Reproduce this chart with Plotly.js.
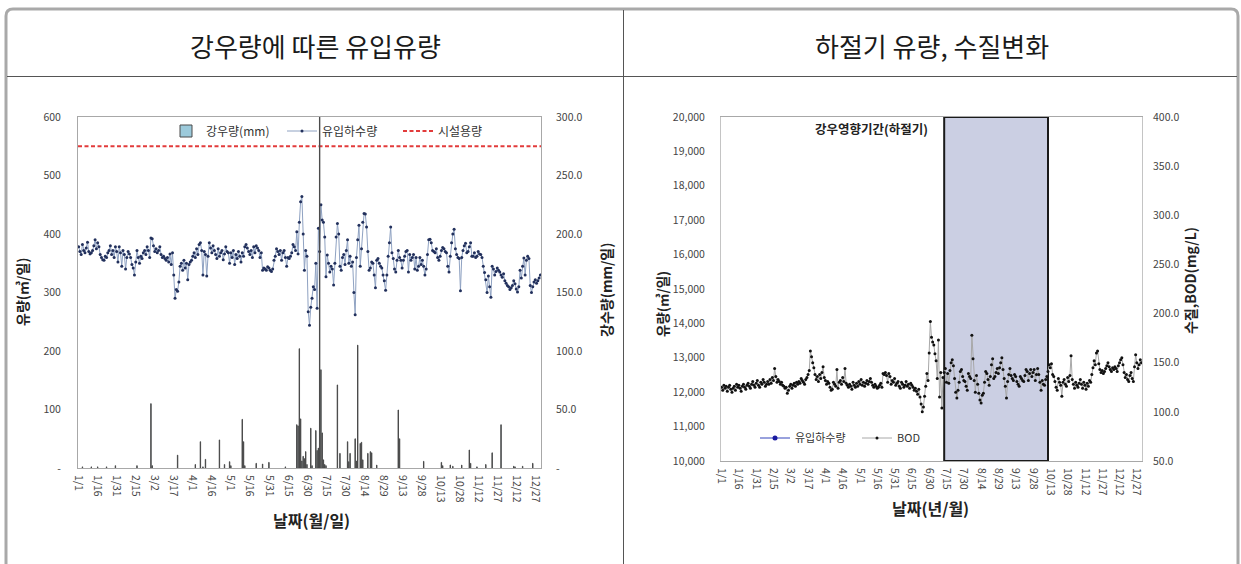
<!DOCTYPE html>
<html><head><meta charset="utf-8">
<script src="https://cdn.plot.ly/plotly-3.0.1.min.js"></script>
<style>html,body{margin:0;padding:0;background:#fff;}#chart{width:1241px;height:564px;}</style>
</head><body><div id="chart"></div>
<script>
// ---------------- DATA ----------------
const yearStart = '2013-01-01';
const nDays = 365;
// 유입하수량 (m3/day), left chart, daily from 1/1
const inflow = [
378,370,365,382,372,368,376,386,370,366,
368,372,380,390,375,385,378,365,360,356,
355,362,360,368,372,380,365,372,360,378,
370,352,378,368,345,372,365,340,360,370,
366,360,348,342,330,352,372,360,350,362,
358,368,372,365,378,372,360,393,392,380,
370,375,368,372,378,365,360,362,358,355,
360,352,366,348,368,330,290,305,302,318,
345,350,338,355,342,350,322,348,352,355,
362,368,360,375,365,382,385,372,330,370,
365,328,362,385,376,368,380,372,365,358,
375,362,368,372,356,366,378,370,368,350,
368,360,372,348,365,358,370,362,352,368,
362,378,382,376,370,365,372,360,378,368,
380,376,372,360,368,338,342,340,338,344,
342,
338,336,340,355,362,375,370,365,372,355,
368,372,360,345,360,358,362,368,382,378,
372,404,366,420,455,464,400,338,372,362,
267,244,275,290,310,305,350,273,410,370,
450,424,420,395,327,364,350,335,345,340,
313,350,395,418,400,345,338,360,365,348,
372,390,350,362,345,352,300,262,360,390,
415,345,375,420,435,434,412,370,338,342,
352,350,330,308,355,358,350,345,342,330,
320,304,330,362,385,412,368,358,340,335,
355,372,360,355,342,355,362,370,372,335,
365,355,360,365,340,360,338,345,360,348,
355,345,330,340,365,390,
391,385,372,370,368,375,360,355,362,372,
377,375,370,368,345,335,362,385,400,408,
375,365,360,358,303,360,372,380,384,368,
370,378,385,362,362,368,360,362,370,366,
365,360,345,334,322,300,328,310,292,345,
340,330,336,342,338,335,330,326,332,320,
316,312,310,305,308,312,320,315,306,301,
310,338,325,345,359,330,355,362,358,312,
300,310,318,322,316,320,325,330
];
// 강우량 (mm/day): day index (0 = 1/1) and amount
const rainDay = [3,10,15,22,29,46,57,58,78,92,96,98,100,111,115,119,120,129,130,131,140,145,150,163,
172,173,174,175,176,177,178,179,180,183,184,187,188,189,190,191,192,193,194,195,
204,206,212,213,214,218,219,220,222,223,224,228,230,231,235,252,253,272,286,287,293,295,302,308,309,314,321,326,333,343,344,350,358];
const rainMm = [1,1,1,1,2,2,55,2,11,3,22.5,1,7.4,24,3,5.4,2,41.6,22.5,2,4,3.4,4.8,1,
37,36,102,42,6,10,8,14,3,34,2,32,15,17,320,84,30,7,3,2,
71,12.5,22.5,5.4,12.5,25,6,105,21,22,7,12.5,14,13,2.5,49.6,25,5.7,4.8,2,2.6,1.5,2.5,15.4,4,1,3,13,37,1.5,1,1.5,4];
const capacity = 550; // 시설용량
// BOD (mg/L), right chart, daily from 1/1
const bod = [
125,122,127,124,126,121,125,127,123,120,
124,126,122,128,125,127,124,121,126,128,
125,123,127,129,126,124,128,131,127,125,
129,132,127,125,130,128,133,130,126,128,
131,128,133,129,135,132,144,136,130,133,
131,128,130,127,126,124,125,119,122,126,
128,124,127,129,126,130,128,131,129,134,
132,130,128,133,135,138,142,162,156,150,
145,138,133,136,131,138,134,140,146,135,
132,128,131,129,125,122,123,130,128,126,
143,124,130,132,128,135,131,144,129,127,
125,128,126,123,130,127,125,129,126,131,
128,133,127,130,126,129,132,128,131,134,
130,127,125,128,126,124,125,127,129,125,
139,138,140,137,130,139,136,128,132,130,
134,127,129,131,126,124,130,128,125,127,
131,126,128,124,129,127,125,122,124,121,
118,123,115,108,100,105,116,126,139,132,
160,192,176,171,168,159,152,134,173,115,140,104,
135,140,144,130,139,129,142,150,153,147,
134,120,114,122,130,141,143,136,132,131,
126,122,139,136,134,178,154,132,120,137,
128,119,112,109,117,119,130,141,139,133,
127,136,148,154,134,136,140,144,139,145,
150,155,143,134,126,114,131,138,144,137,
134,132,138,136,131,128,126,136,134,132,
131,137,143,141,132,139,143,136,140,143,
132,138,144,138,130,122,132,128,127,133,
136,141,148,145,149,138,136,131,125,122,
134,130,127,116,130,133,128,126,135,131,
137,157,133,128,124,130,127,125,129,133,
128,124,130,127,123,129,126,132,130,138,
145,152,148,160,162,149,143,140,142,139,
141,144,147,150,146,143,141,145,143,146,
144,141,147,150,153,155,148,140,135,138,
133,131,137,140,134,131,146,158,150,144,
148,153,150
];
const flowRight = [null]; // 유입하수량 (right chart) – not visible in the reference
// 강우영향기간(하절기)
const periodStart = '2013-07-13';
const periodEnd = '2013-10-11';
const dayTickStep = 15;

// ---------------- HELPERS ----------------
const W = 1241, H = 564;
const px = x => x / W;
const py = y => 1 - y / H;
const DAY = 86400000;
const t0 = Date.parse(yearStart + 'T00:00:00Z');
const dayDate = d => new Date(t0 + d * DAY).toISOString().replace('T', ' ').slice(0, 19);
const dates = Array.from({length: nDays}, (_, i) => dayDate(i));
const rainDates = rainDay.map(d => dayDate(d));
const xRange = [dayDate(-0.5), dayDate(nDays - 0.5)];

const FONT = '"Noto Sans CJK KR", "Noto Sans", sans-serif';
const tickFont = {family: FONT, size: 10.5, color: '#444'};
const frame = '#a8a8a8';

const xCommon = {
  type: 'date', range: xRange, tick0: yearStart, dtick: dayTickStep * DAY,
  tickformat: '%-m/%-d', tickangle: 90, tickfont: tickFont,
  showgrid: false, zeroline: false, showline: true, mirror: true,
  linecolor: frame, linewidth: 1, ticks: '', ticklabelstandoff: 4
};

const traces = [
  {type: 'bar', x: rainDates, y: rainMm, xaxis: 'x', yaxis: 'y2', name: '강우량(mm)',
   width: 0.3 * DAY, marker: {color: '#9ccadb', line: {color: '#4a4a4a', width: 1}},
   legend: 'legend', hoverinfo: 'x+y'},
  {type: 'scatter', mode: 'lines+markers', x: dates, y: inflow, xaxis: 'x', yaxis: 'y',
   name: '유입하수량', line: {color: '#8fa2c2', width: 1}, marker: {color: '#22305c', size: 3},
   legend: 'legend'},
  {type: 'scatter', mode: 'lines', x: xRange, y: [capacity, capacity], xaxis: 'x', yaxis: 'y',
   name: '시설용량', line: {color: '#e23b3b', width: 2, dash: '4px,2.5px'}, legend: 'legend'},
  {type: 'scatter', mode: 'lines+markers', x: [dates[0]], y: flowRight, xaxis: 'x2', yaxis: 'y3',
   name: '유입하수량', line: {color: '#3344bb', width: 1}, marker: {color: '#1a1aa0', size: 5},
   legend: 'legend2'},
  {type: 'scatter', mode: 'lines+markers', x: dates, y: bod, xaxis: 'x2', yaxis: 'y4',
   name: 'BOD', line: {color: '#a8a8a8', width: 1}, marker: {color: '#111', size: 3},
   legend: 'legend2'}
];

const rng = (a, b, s) => { const r = []; for (let v = a; v <= b + 1e-9; v += s) r.push(v); return r; };

function note(x, y, text, size, extra) {
  return Object.assign({x: px(x), y: py(y), xref: 'paper', yref: 'paper', text: text,
    xanchor: 'center', yanchor: 'middle', showarrow: false,
    font: {family: FONT, size: size, color: '#222'}}, extra || {});
}

const layout = {
  width: W, height: H, margin: {l: 0, r: 0, t: 0, b: 0},
  paper_bgcolor: '#fff', plot_bgcolor: '#fff',
  font: {family: FONT, color: '#333'},
  showlegend: true, bargap: 0,
  xaxis: Object.assign({}, xCommon, {domain: [px(78), px(541)], anchor: 'y'}),
  yaxis: {domain: [py(468), py(117)], anchor: 'x', range: [0, 600],
          tickvals: rng(0, 600, 100), ticktext: rng(0, 600, 100).map(v => v === 0 ? '-' : String(v)),
          tickfont: tickFont, showgrid: false, zeroline: false, showline: true, mirror: true,
          linecolor: frame, ticks: '', ticklabelstandoff: 14},
  yaxis2: {overlaying: 'y', side: 'right', anchor: 'x', range: [0, 300],
           tickvals: rng(0, 300, 50), ticktext: rng(0, 300, 50).map(v => v === 0 ? '-' : v.toFixed(1)),
           tickfont: tickFont, showgrid: false, zeroline: false, showline: false, ticks: '',
           ticklabelstandoff: 14},
  xaxis2: Object.assign({}, xCommon, {domain: [px(721), px(1142)], anchor: 'y3'}),
  yaxis3: {domain: [py(461), py(117)], anchor: 'x2', range: [10000, 20000], dtick: 1000,
           tickformat: ',d', tickfont: tickFont, showgrid: false, zeroline: false,
           showline: true, mirror: true, linecolor: '#c4c4c4', ticks: '', ticklabelstandoff: 13},
  yaxis4: {overlaying: 'y3', side: 'right', anchor: 'x2', range: [50, 400], tick0: 50, dtick: 50,
           tickformat: '.1f', tickfont: tickFont, showgrid: false, zeroline: false,
           showline: false, ticks: '', ticklabelstandoff: 10},
  legend: {orientation: 'h', x: px(166), xanchor: 'left', y: py(131), yanchor: 'middle',
           bgcolor: 'rgba(0,0,0,0)', font: {family: FONT, size: 12, color: '#333'},
           itemwidth: 30, tracegroupgap: 0, entrywidth: 71, entrywidthmode: 'pixels'},
  legend2: {orientation: 'h', x: px(755), xanchor: 'left', y: py(438), yanchor: 'middle',
            bgcolor: 'rgba(0,0,0,0)', font: {family: FONT, size: 11, color: '#333'},
            itemwidth: 30, entrywidth: 57, entrywidthmode: 'pixels'},
  shapes: [
    // table frame
    {type: 'path', xref: 'paper', yref: 'paper',
     path: `M ${px(6)},${py(580)} L ${px(6)},${py(16)} Q ${px(6)},${py(9)} ${px(13)},${py(9)} L ${px(1231)},${py(9)} Q ${px(1238)},${py(9)} ${px(1238)},${py(16)} L ${px(1238)},${py(580)}`,
     line: {color: '#a9a9a9', width: 3}},
    {type: 'line', xref: 'paper', yref: 'paper', x0: px(7), x1: px(1237), y0: py(76.5), y1: py(76.5),
     line: {color: '#555', width: 1}},
    {type: 'line', xref: 'paper', yref: 'paper', x0: px(623.5), x1: px(623.5), y0: py(10), y1: py(566),
     line: {color: '#555', width: 1}},
    // highlighted summer period
    {type: 'rect', xref: 'x2', yref: 'y3', x0: periodStart, x1: periodEnd, y0: 10000, y1: 20000,
     fillcolor: '#cbcfe3', line: {color: '#1a1a1a', width: 2}, layer: 'below'}
  ],
  annotations: [
    note(315, 46, '강우량에 따른 유입유량', 26, {font: {family: FONT, size: 26, color: '#1a1a1a'}}),
    note(932, 46, '하절기 유량, 수질변화', 26, {font: {family: FONT, size: 26, color: '#1a1a1a'}}),
    note(22, 292, '<b>유량(㎥/일)</b>', 14),
    note(606, 290, '<b>강수량(mm/일)</b>', 14),
    note(311, 520, '<b>날짜(월/일)</b>', 16),
    note(662, 304, '<b>유량(㎥/일)</b>', 13.5),
    note(1190, 281, '<b>수질,BOD(mg/L)</b>', 14),
    note(930, 508, '<b>날짜(년/월)</b>', 16),
    note(930, 129, '<b>강우영향기간(하절기)</b>', 12.5, {xanchor: 'right'})
  ]
};
// rotate the vertical axis titles
[2, 3, 5, 6].forEach(i => { layout.annotations[i].textangle = -90; });

Plotly.newPlot('chart', traces, layout, {displayModeBar: false, staticPlot: true});
</script>
</body></html>
